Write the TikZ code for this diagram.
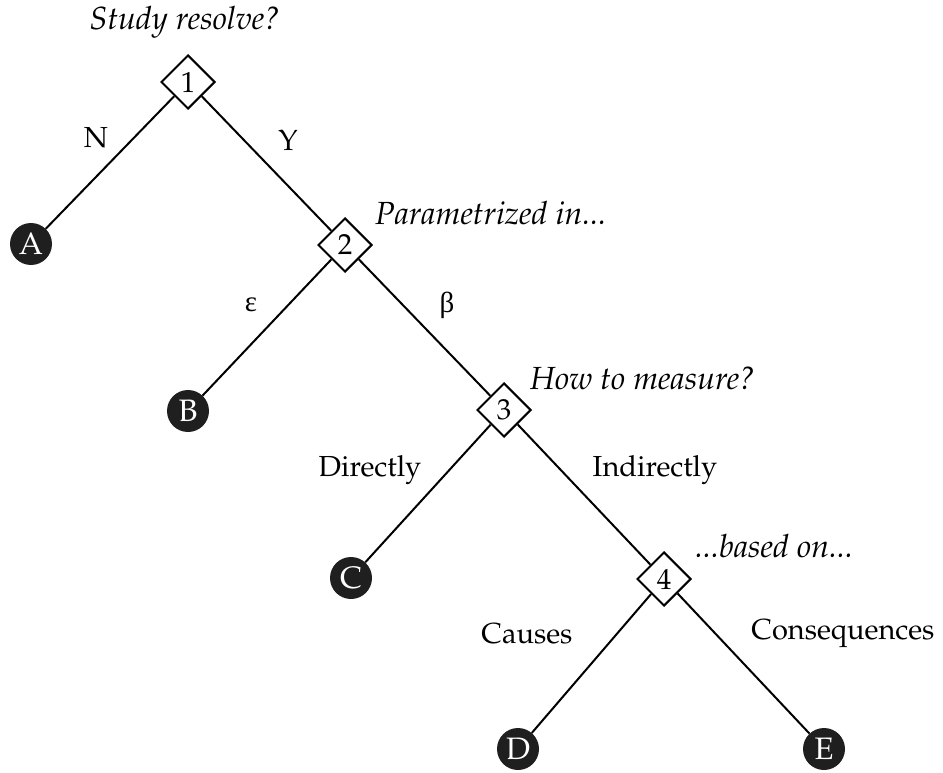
\documentclass[tikz,border=0pt]{standalone}
\usepackage{fontspec}
\newfontfamily\grkfont{Liberation Serif}
\usetikzlibrary{shapes.geometric}
\newcommand\palrm{\usefont{OT1}{ppl}{m}{n}}
\newcommand\palit{\usefont{OT1}{ppl}{m}{it}}
\begin{document}
\begin{tikzpicture}[x=1pt,y=-1pt,
  every node/.style={inner sep=0pt},
  dia/.style={diamond, draw, line width=2pt, fill=white, minimum size=54pt, font=\fontsize{29}{32}\palrm},
  leaf/.style={circle, fill=black!88, text=white, minimum size=42pt, font=\fontsize{31}{32}\palrm},
  edgeline/.style={line width=2pt},
  lab/.style={font=\fontsize{29}{34}\palrm},
  ques/.style={font=\fontsize{32}{36}\palit},
  grk/.style={font=\fontsize{29}{34}\grkfont}]
\useasboundingbox (0,0) rectangle (943,773);
% nodes
\node[dia] (d1) at (188,82) {1};
\node[dia] (d2) at (345,245) {2};
\node[dia] (d3) at (504,410) {3};
\node[dia] (d4) at (664,579) {4};
\node[leaf] (A) at (31,244) {A};
\node[leaf] (B) at (188,411) {B};
\node[leaf] (C) at (351,578) {C};
\node[leaf] (D) at (518,749) {D};
\node[leaf] (E) at (824,749) {E};
% edges
\draw[edgeline] (d1) -- (A);
\draw[edgeline] (d1) -- (d2);
\draw[edgeline] (d2) -- (B);
\draw[edgeline] (d2) -- (d3);
\draw[edgeline] (d3) -- (C);
\draw[edgeline] (d3) -- (d4);
\draw[edgeline] (d4) -- (D);
\draw[edgeline] (d4) -- (E);
% questions
\node[ques] (q1) at (185,22) {Study resolve?};
\node[ques, anchor=west] (q2) at (375,213) {Parametrized in...};
\node[ques, anchor=west] (q3) at (530,378) {How to measure?};
\node[ques, anchor=west] (q4) at (695,546) {...based on...};
% edge labels
\node[lab] (lN) at (96,138) {N};
\node[lab] (lY) at (288,140) {Y};
\node[grk] (le) at (251,305) {ε};
\node[grk] (lb) at (447,305) {β};
\node[lab] (ldir) at (370,470) {Directly};
\node[lab] (lind) at (655,470) {Indirectly};
\node[lab] (lcau) at (527,633) {Causes};
\node[lab] (lcon) at (843,633) {Consequences};
\end{tikzpicture}
\end{document}
